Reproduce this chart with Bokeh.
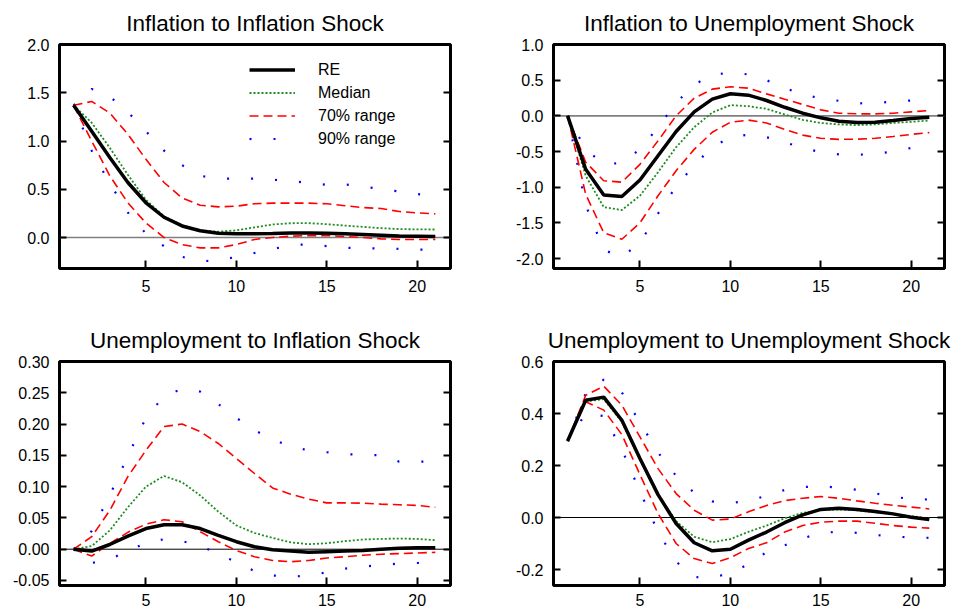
from bokeh.plotting import figure
from bokeh.models import (Range1d, FixedTicker, PrintfTickFormatter, LinearAxis, Span,
                          Legend, LegendItem)
from bokeh.layouts import column, row
from bokeh.embed import file_html
from bokeh.resources import INLINE

# ---------------- data ----------------
horizon = list(range(1, 22))

# Inflation to Inflation Shock
ii_re = [1.37, 1.10, 0.83, 0.57, 0.36, 0.21, 0.12, 0.07, 0.045, 0.038, 0.038, 0.041, 0.047, 0.048, 0.045, 0.038, 0.031, 0.024, 0.017, 0.014, 0.01]
ii_med = [1.37, 1.19, 0.93, 0.65, 0.39, 0.22, 0.125, 0.075, 0.06, 0.075, 0.105, 0.135, 0.148, 0.149, 0.138, 0.124, 0.11, 0.097, 0.088, 0.084, 0.083]
ii_hi70 = [1.37, 1.41, 1.29, 1.07, 0.81, 0.57, 0.41, 0.335, 0.318, 0.325, 0.35, 0.356, 0.356, 0.356, 0.35, 0.33, 0.31, 0.30, 0.27, 0.255, 0.245]
ii_lo70 = [1.37, 1.00, 0.64, 0.36, 0.15, 0.0, -0.073, -0.107, -0.107, -0.073, -0.02, 0.0, 0.014, 0.02, 0.02, 0.01, 0.0, -0.014, -0.02, -0.02, -0.02]
ii_hi90 = [1.37, 1.54, 1.46, 1.30, 1.10, 0.90, 0.75, 0.64, 0.61, 0.61, 0.61, 0.60, 0.585, 0.565, 0.546, 0.55, 0.53, 0.50, 0.477, 0.45, 0.43]
ii_lo90 = [1.37, 0.90, 0.56, 0.26, 0.04, -0.09, -0.20, -0.245, -0.24, -0.20, -0.16, -0.12, -0.08, -0.07, -0.09, -0.105, -0.112, -0.112, -0.117, -0.125, -0.13]

# Inflation to Unemployment Shock
iu_re = [0, -0.75, -1.11, -1.13, -0.90, -0.56, -0.22, 0.056, 0.234, 0.31, 0.29, 0.215, 0.12, 0.037, -0.028, -0.075, -0.093, -0.089, -0.065, -0.037, -0.019]
iu_med = [0, -0.84, -1.28, -1.32, -1.12, -0.79, -0.44, -0.16, 0.047, 0.15, 0.135, 0.098, 0.019, -0.056, -0.10, -0.12, -0.13, -0.12, -0.10, -0.084, -0.065]
iu_hi70 = [0, -0.65, -0.91, -0.93, -0.68, -0.35, 0.0, 0.248, 0.374, 0.407, 0.388, 0.308, 0.234, 0.159, 0.084, 0.037, 0.028, 0.028, 0.037, 0.056, 0.075]
iu_lo70 = [0, -1.10, -1.64, -1.73, -1.50, -1.12, -0.77, -0.47, -0.23, -0.09, -0.06, -0.10, -0.19, -0.27, -0.315, -0.33, -0.327, -0.315, -0.29, -0.26, -0.235]
iu_hi90 = [0, -0.47, -0.68, -0.66, -0.47, -0.16, 0.18, 0.44, 0.57, 0.61, 0.58, 0.50, 0.39, 0.30, 0.245, 0.21, 0.175, 0.18, 0.20, 0.215, 0.22]
iu_lo90 = [0, -1.25, -1.88, -1.98, -1.78, -1.37, -0.99, -0.69, -0.44, -0.30, -0.265, -0.30, -0.37, -0.45, -0.51, -0.54, -0.545, -0.535, -0.50, -0.45, -0.42]

# Unemployment to Inflation Shock
ui_re = [0, -0.003, 0.0075, 0.021, 0.033, 0.039, 0.039, 0.033, 0.022, 0.012, 0.004, -0.001, -0.003, -0.005, -0.004, -0.003, -0.002, 0.0, 0.0015, 0.0025, 0.0025]
ui_med = [0, 0.005, 0.030, 0.067, 0.10, 0.117, 0.107, 0.086, 0.06, 0.038, 0.026, 0.018, 0.011, 0.008, 0.0096, 0.0128, 0.0155, 0.0165, 0.017, 0.0165, 0.0144]
ui_hi70 = [0, 0.02, 0.062, 0.116, 0.158, 0.196, 0.20, 0.188, 0.169, 0.145, 0.121, 0.098, 0.088, 0.080, 0.074, 0.074, 0.0735, 0.072, 0.071, 0.07, 0.067]
ui_lo70 = [0, -0.011, 0.009, 0.027, 0.04, 0.047, 0.044, 0.028, 0.012, -0.002, -0.012, -0.018, -0.02, -0.018, -0.014, -0.012, -0.0096, -0.008, -0.007, -0.006, -0.005]
ui_hi90 = [0, 0.029, 0.086, 0.149, 0.21, 0.245, 0.256, 0.252, 0.232, 0.21, 0.19, 0.176, 0.164, 0.158, 0.155, 0.152, 0.151, 0.150, 0.14, 0.14, 0.14]
ui_lo90 = [0, -0.022, -0.016, -0.003, 0.010, 0.016, 0.013, 0.005, -0.007, -0.021, -0.035, -0.042, -0.044, -0.042, -0.037, -0.031, -0.028, -0.025, -0.023, -0.022, -0.021]

# Unemployment to Unemployment Shock
uu_re = [0.294, 0.451, 0.463, 0.374, 0.227, 0.088, -0.023, -0.097, -0.128, -0.122, -0.087, -0.056, -0.02, 0.01, 0.031, 0.036, 0.031, 0.023, 0.014, 0.001, -0.008]
uu_med = [0.294, 0.447, 0.455, 0.368, 0.224, 0.088, -0.014, -0.074, -0.095, -0.083, -0.055, -0.031, -0.003, 0.018, 0.028, 0.031, 0.028, 0.02, 0.013, 0.005, -0.003]
uu_hi70 = [0.294, 0.47, 0.505, 0.432, 0.31, 0.188, 0.092, 0.028, -0.01, -0.006, 0.022, 0.046, 0.065, 0.074, 0.081, 0.074, 0.064, 0.055, 0.047, 0.04, 0.033]
uu_lo70 = [0.294, 0.445, 0.413, 0.319, 0.165, 0.015, -0.10, -0.158, -0.177, -0.155, -0.119, -0.097, -0.056, -0.031, -0.018, -0.014, -0.014, -0.022, -0.031, -0.037, -0.041]
uu_hi90 = [0.294, 0.478, 0.53, 0.481, 0.366, 0.25, 0.16, 0.095, 0.062, 0.055, 0.065, 0.083, 0.106, 0.117, 0.12, 0.115, 0.107, 0.093, 0.08, 0.071, 0.069]
uu_lo90 = [0.294, 0.40, 0.39, 0.262, 0.10, -0.055, -0.17, -0.229, -0.232, -0.213, -0.18, -0.133, -0.107, -0.08, -0.06, -0.054, -0.059, -0.067, -0.073, -0.077, -0.078]

x_ticks = [5, 10, 15, 20]
ii_ticks = [0.0, 0.5, 1.0, 1.5, 2.0]
iu_ticks = [-2.0, -1.5, -1.0, -0.5, 0.0, 0.5, 1.0]
ui_ticks = [-0.05, 0.0, 0.05, 0.10, 0.15, 0.20, 0.25, 0.30]
uu_ticks = [-0.2, 0.0, 0.2, 0.4, 0.6]

labels = ["RE", "Median", "70% range", "90% range"]

FONT = "Liberation Sans"


def make_panel(title, series, y_range, y_ticks, fmt, zero_color, zero_width,
               width, height, bl, br, bt, bb, x_standoff, legend=False):
    re, med, hi70, lo70, hi90, lo90 = series
    p = figure(width=width, height=height,
               x_range=Range1d(0.22, 21.84), y_range=Range1d(*y_range),
               output_backend="svg", toolbar_location=None,
               min_border_left=bl, min_border_right=br,
               min_border_top=bt, min_border_bottom=bb)
    p.title.text = title
    p.title.align = "center"
    p.title.text_font = FONT
    p.title.text_font_size = "22.5px"
    p.title.text_font_style = "normal"
    p.title.text_color = "black"
    p.title.standoff = 17

    p.grid.visible = False
    p.outline_line_color = "black"
    p.outline_line_width = 3
    p.outline_line_alpha = 1.0
    p.background_fill_color = "white"
    p.border_fill_color = "white"

    zero = Span(location=0, dimension="width", line_color=zero_color,
                line_width=zero_width, level="underlay")
    p.add_layout(zero)

    r90a = p.line(horizon, hi90, line_color="#0000ff", line_width=2.2, line_dash="2 22")
    p.line(horizon, lo90, line_color="#0000ff", line_width=2.2, line_dash="2 22")
    r70a = p.line(horizon, hi70, line_color="#ff0000", line_width=1.6, line_dash="9 5")
    p.line(horizon, lo70, line_color="#ff0000", line_width=1.6, line_dash="9 5")
    rmed = p.line(horizon, med, line_color="#1e8c1e", line_width=1.8, line_dash="2 2")
    rre = p.line(horizon, re, line_color="black", line_width=3.5)

    xa = p.xaxis[0]
    xa.ticker = FixedTicker(ticks=x_ticks)
    xa.axis_line_color = None
    xa.major_tick_in = 8
    xa.major_tick_out = 0
    xa.major_tick_line_width = 2
    xa.minor_tick_line_color = None
    xa.major_label_text_font = FONT
    xa.major_label_text_font_size = "16px"
    xa.major_label_text_color = "black"
    xa.major_label_standoff = x_standoff

    ya = p.yaxis[0]
    ya.ticker = FixedTicker(ticks=y_ticks)
    ya.formatter = PrintfTickFormatter(format=fmt)
    ya.axis_line_color = None
    ya.major_tick_in = 7
    ya.major_tick_out = 0
    ya.major_tick_line_width = 2
    ya.minor_tick_line_color = None
    ya.major_label_text_font = FONT
    ya.major_label_text_font_size = "16px"
    ya.major_label_text_color = "black"
    ya.major_label_standoff = 10

    ra = LinearAxis(ticker=FixedTicker(ticks=y_ticks),
                    major_label_text_font_size="1px", major_label_text_color=None,
                    major_label_standoff=0,
                    axis_line_color=None, major_tick_in=7, major_tick_out=0,
                    major_tick_line_width=2, minor_tick_line_color=None)
    p.add_layout(ra, "right")

    if legend:
        items = [LegendItem(label=labels[0], renderers=[rre]),
                 LegendItem(label=labels[1], renderers=[rmed]),
                 LegendItem(label=labels[2], renderers=[r70a]),
                 LegendItem(label=labels[3], renderers=[r90a])]
        lg = Legend(items=items, location=(190, 118),
                    border_line_color=None, background_fill_alpha=0,
                    padding=0, margin=0, spacing=0,
                    glyph_width=46, glyph_height=23, label_height=23,
                    label_standoff=23, label_text_font=FONT,
                    label_text_font_size="16px", label_text_color="black",
                    label_text_baseline="middle")
        p.add_layout(lg)
    return p


p1 = make_panel("Inflation to Inflation Shock",
                (ii_re, ii_med, ii_hi70, ii_lo70, ii_hi90, ii_lo90),
                (-0.321, 2.0), ii_ticks, "%.1f", "#808080", 1.6,
                479, 310, 59, 29, 44, 42, 11, legend=True)
p2 = make_panel("Inflation to Unemployment Shock",
                (iu_re, iu_med, iu_hi70, iu_lo70, iu_hi90, iu_lo90),
                (-2.14, 1.0), iu_ticks, "%.1f", "#808080", 1.6,
                479, 310, 74, 14, 44, 42, 11)
p3 = make_panel("Unemployment to Inflation Shock",
                (ui_re, ui_med, ui_hi70, ui_lo70, ui_hi90, ui_lo90),
                (-0.058, 0.30), ui_ticks, "%.2f", "black", 1,
                479, 301, 59, 29, 51, 26, 8)
p4 = make_panel("Unemployment to Unemployment Shock",
                (uu_re, uu_med, uu_hi70, uu_lo70, uu_hi90, uu_lo90),
                (-0.2615, 0.6), uu_ticks, "%.1f", "black", 1,
                479, 301, 74, 14, 51, 26, 8)

layout = column(row(p1, p2), row(p3, p4))

open("out.html", "w").write(file_html(layout, INLINE))
